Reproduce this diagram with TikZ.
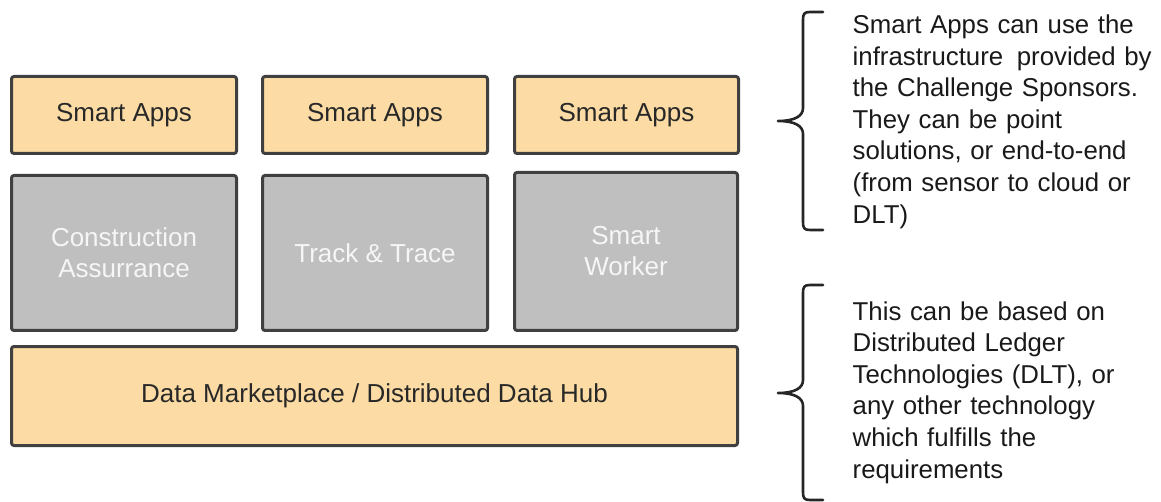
\documentclass[tikz,border=0pt]{standalone}
\usepackage{fontspec}
\setmainfont{Liberation Sans}
\definecolor{apporange}{RGB}{252,220,164}
\definecolor{boxgray}{RGB}{191,191,191}
\definecolor{edgegray}{RGB}{64,64,64}
\definecolor{lighttext}{RGB}{246,246,246}
\definecolor{darktext}{RGB}{40,40,40}
\begin{document}
\begin{tikzpicture}[x=1pt,y=-1pt,
  blockbox/.style={draw=edgegray, line width=3pt, rounded corners=2.5pt},
  appbox/.style={blockbox, fill=apporange},
  modbox/.style={blockbox, fill=boxgray},
  boxtext/.style={font=\fontsize{26}{31}\selectfont, align=center},
  bracepath/.style={draw=black!85, line width=2.6pt, line cap=round, line join=round},
  notetext/.style={font=\fontsize{25.8}{31.6}\selectfont, text=black!90, align=left, text width=305pt, inner sep=0pt, anchor=base west}]
\useasboundingbox (0,0) rectangle (1161,502);
% smart apps
\draw[appbox] (11.5,76.5) rectangle (236.5,153.5);
\draw[appbox] (262.5,76.5) rectangle (487.5,153.5);
\draw[appbox] (514.5,76.5) rectangle (738.5,153.5);
\node[boxtext, text=darktext] (sa1) at (124,115) {Smart Apps};
\node[boxtext, text=darktext] (sa2) at (375,115) {Smart Apps};
\node[boxtext, text=darktext] (sa3) at (626.5,115) {Smart Apps};
% modules
\draw[modbox] (11.5,175.5) rectangle (236.5,330.5);
\draw[modbox] (262.5,175.5) rectangle (487.5,330.5);
\draw[modbox] (514.5,172.5) rectangle (737.5,330.5);
\node[boxtext, text=lighttext] (m1) at (124,253) {Construction\\Assurrance};
\node[boxtext, text=lighttext] (m2) at (375,253) {Track \& Trace};
\node[boxtext, text=lighttext] (m3) at (626,251.5) {Smart\\Worker};
% hub
\draw[appbox] (11.5,346.5) rectangle (737.5,445.5);
\node[boxtext, text=darktext] (hub) at (374.5,396) {Data Marketplace / Distributed Data Hub};
% braces
\coordinate (b1top) at (823,12);
\coordinate (b1tip) at (778,121);
\coordinate (b1bot) at (823,230);
\draw[bracepath] (b1top) -- (810,12) .. controls (804,12) and (803,14) .. (803,20)
  -- (803,108) .. controls (803,116) and (795,121) .. (b1tip)
  .. controls (795,121) and (803,126) .. (803,134)
  -- (803,222) .. controls (803,228) and (804,230) .. (810,230) -- (b1bot);
\coordinate (b2top) at (823,285);
\coordinate (b2tip) at (778,393);
\coordinate (b2bot) at (823,500);
\draw[bracepath] (b2top) -- (810,285) .. controls (804,285) and (803,287) .. (803,293)
  -- (803,380) .. controls (803,388) and (795,393) .. (b2tip)
  .. controls (795,393) and (803,398) .. (803,406)
  -- (803,492) .. controls (803,498) and (804,500) .. (810,500) -- (b2bot);
% notes
\node[notetext] (n1) at (852.5,33.5) {Smart Apps can use the\\infrastructure \hspace{5pt}provided by\\the Challenge Sponsors.\\They can be point\\solutions, or end-to-end\\(from sensor to cloud or\\DLT)};
\node[notetext] (n2) at (852.5,320) {This can be based on\\Distributed Ledger\\Technologies (DLT), or\\any other technology\\which fulfills the\\requirements};
\end{tikzpicture}
\end{document}
